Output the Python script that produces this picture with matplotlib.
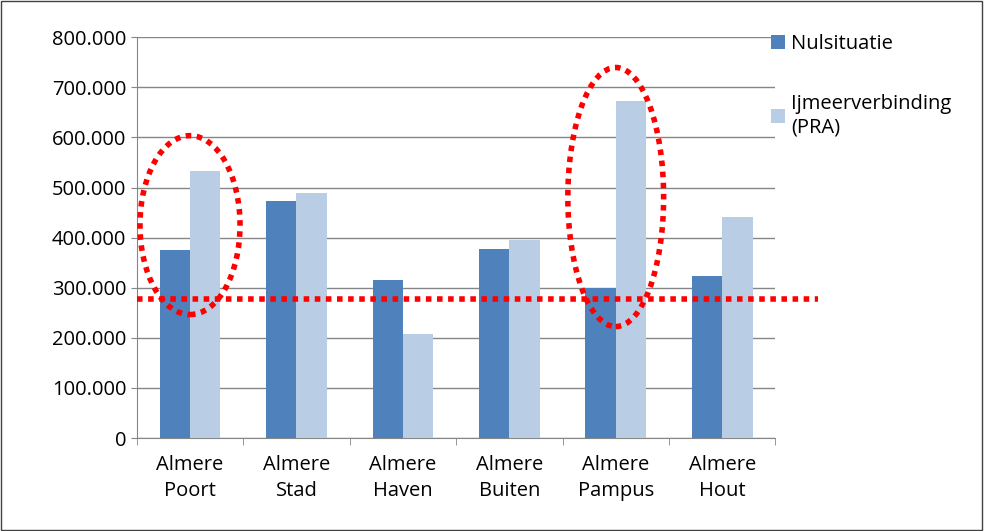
import numpy as np
import matplotlib.pyplot as plt
from matplotlib.patches import Ellipse, Rectangle

categories = ["Almere\nPoort", "Almere\nStad", "Almere\nHaven", "Almere\nBuiten", "Almere\nPampus", "Almere\nHout"]
nulsituatie = [375000, 473000, 315000, 378000, 300000, 323000]
ijmeer = [532000, 490000, 208000, 395000, 673000, 441000]
threshold = 277000

plt.rcParams["font.family"] = ["Open Sans", "DejaVu Sans"]
fig = plt.figure(figsize=(9.84, 5.31), dpi=100)
fig.patches.append(Rectangle((0.001, 0.002), 0.997, 0.996, transform=fig.transFigure,
                             fill=False, ec="#404040", lw=1))
ax = fig.add_axes([0.139, 0.175, 0.649, 0.755])

x = np.arange(len(categories))
w = 0.285
ax.bar(x - w / 2, nulsituatie, w, color="#4f81bd", label="Nulsituatie", zorder=3)
ax.bar(x + w / 2, ijmeer, w, color="#b9cde5", label="Ijmeerverbinding\n(PRA)", zorder=3)

ax.set_xlim(-0.5, len(categories) - 0.5)
ax.set_ylim(0, 800000)
ax.set_yticks(np.arange(0, 800001, 100000))
ax.set_yticklabels(["0"] + [f"{v // 1000}.000" for v in range(100000, 800001, 100000)], fontsize=14.5)
ax.set_xticks(x)
ax.set_xticklabels(categories, fontsize=14.5, linespacing=1.45)
ax.tick_params(axis="x", length=0, pad=12)
ax.tick_params(axis="y", length=4, color="#868686")
ax.set_xticks(np.arange(-0.5, len(categories)), minor=True)
ax.tick_params(axis="x", which="minor", length=5, color="#868686")
ax.grid(axis="y", color="#868686", lw=1, zorder=0)
for s in ["top", "right"]:
    ax.spines[s].set_visible(False)
for s in ["left", "bottom"]:
    ax.spines[s].set_color("#868686")

ax.plot([-0.5, 5.9], [threshold, threshold], ls=(0, (1, 1)), color="#ff0000", lw=4,
        clip_on=False, zorder=5)
ax.add_patch(Ellipse((0.0, 425000), 0.94, 357000, fill=False, ec="#ff0000", lw=4,
                     ls=(0, (1, 1)), zorder=5))
ax.add_patch(Ellipse((4.0, 481000), 0.9, 517000, fill=False, ec="#ff0000", lw=4,
                     ls=(0, (1, 1)), zorder=5))

fig.legend(loc="upper left", bbox_to_anchor=(0.765, 0.97), frameon=False, fontsize=14.5,
           handlelength=0.7, handleheight=0.7, handletextpad=0.3, labelspacing=2.0)

fig.savefig("out.png", dpi=100)
